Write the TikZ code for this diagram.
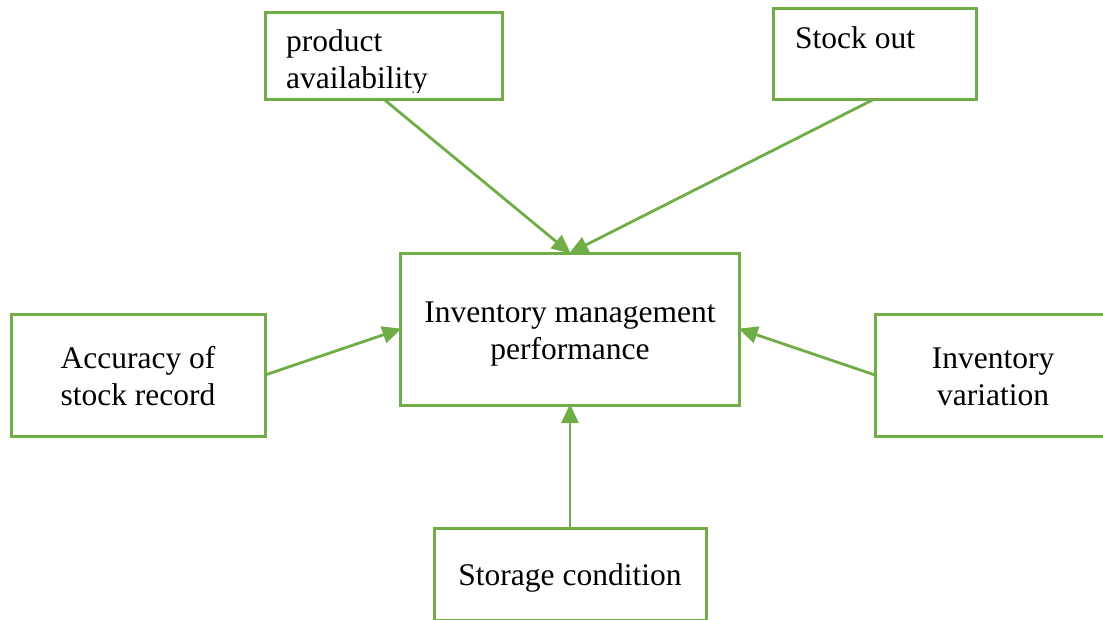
\documentclass[tikz,border=0pt]{standalone}
\usepackage{fontspec}
\setmainfont{Liberation Serif}
\usetikzlibrary{arrows.meta}
\definecolor{leaf}{HTML}{70AD47}
\tikzset{
  box/.style={draw=leaf, line width=3pt, fill=white, inner sep=0pt, outer sep=0pt},
  lbl/.style={anchor=base west, inner sep=0pt, font=\fontsize{31.5}{37}\selectfont},
  lblc/.style={anchor=base, inner sep=0pt, font=\fontsize{31.5}{37}\selectfont},
  link/.style={draw=leaf, line width=2.8pt, -{Triangle[length=19pt,width=17pt]}, shorten >=-1pt}
}
\begin{document}
\begin{tikzpicture}[x=1pt,y=-1pt]
\useasboundingbox (0,0) rectangle (1103,619);

% boxes
\node[box, minimum width=237pt, minimum height=87pt] (avail) at (383.5,55.5) {};
\node[box, minimum width=203pt, minimum height=91pt] (stock) at (874.5,53.5) {};
\node[box, minimum width=339pt, minimum height=152pt] (perf) at (570,329) {};
\node[box, minimum width=254pt, minimum height=122pt] (acc) at (138,375) {};
\node[box, minimum width=236pt, minimum height=122pt] (var) at (993,375) {};
\node[box, minimum width=272pt, minimum height=92pt] (store) at (570,574) {};

% labels; the text frame cuts off the last line's descender
\begin{scope}
  \clip (266.5,13.5) rectangle (500.5,92.5);
  \node[lbl] (availA) at (286,51) {product};
  \node[lbl] (availB) at (286,88) {availability};
\end{scope}
\node[lbl] (stockA) at (795,48) {Stock out};
\node[lblc] (perfA) at (570,322) {Inventory management};
\node[lblc] (perfB) at (570,359) {performance};
\node[lblc] (accA) at (138,368) {Accuracy of};
\node[lblc] (accB) at (138,405) {stock record};
\node[lblc] (varA) at (993,368) {Inventory};
\node[lblc] (varB) at (993,405) {variation};
\node[lblc] (storeA) at (570,585) {Storage condition};

% connectors
\draw[link] (avail.south) -- (perf.north);
\draw[link] (stock.south) -- (perf.north);
\draw[link] (acc.east) -- (perf.west);
\draw[link] (var.west) -- (perf.east);
\draw[link] (store.north) -- (perf.south);
\end{tikzpicture}
\end{document}
